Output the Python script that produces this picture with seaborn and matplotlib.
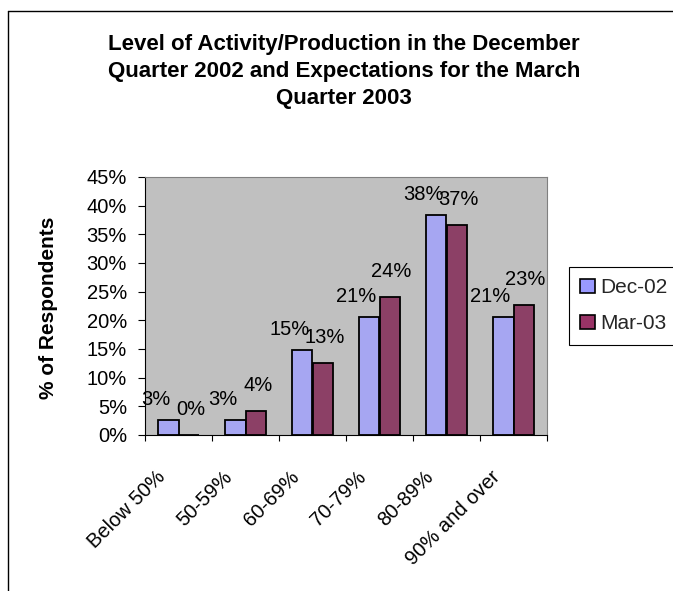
import matplotlib
matplotlib.use("Agg")
import matplotlib.pyplot as plt
import matplotlib.patches as mpatches
from matplotlib.lines import Line2D
from matplotlib.ticker import FuncFormatter, FixedLocator
import numpy as np
import pandas as pd
import seaborn as sns

# Capacity-utilisation bands and survey shares (% of respondents)
bands = ["Below 50%", "50-59%", "60-69%", "70-79%", "80-89%", "90% and over"]
periods = ["Dec-02", "Mar-03"]
dec_02 = [2.6, 2.7, 14.9, 20.6, 38.3, 20.6]
mar_03 = [0.0, 4.1, 12.6, 24.0, 36.6, 22.6]
bar_colors = ["#9999FF", "#993366"]
y_ticks = [0, 5, 10, 15, 20, 25, 30, 35, 40, 45]
title = ("Level of Activity/Production in the December\n"
         "Quarter 2002 and Expectations for the March\n"
         "Quarter 2003")

df = pd.DataFrame({
    "band": bands * 2,
    "pct": dec_02 + mar_03,
    "period": [periods[0]] * len(bands) + [periods[1]] * len(bands),
})

sns.set_theme(style="white")
plt.rcParams["font.family"] = ["Liberation Sans", "DejaVu Sans"]

W, H = 673, 591
fig = plt.figure(figsize=(W / 100, H / 100), dpi=100)
fig.patch.set_facecolor("white")

x0, x1, ytop, ybot = 145, 547, 177, 435
ax = fig.add_axes([x0 / W, 1 - ybot / H, (x1 - x0) / W, (ybot - ytop) / H])
ax.set_facecolor("#C0C0C0")

sns.barplot(data=df, x="band", y="pct", hue="period", palette=bar_colors,
            width=0.6, gap=0, edgecolor="black", linewidth=1.3,
            legend=False, ax=ax)

ax.set_ylim(0, 45)
ax.set_xlim(-0.5, len(bands) - 0.5)
ax.yaxis.set_major_locator(FixedLocator(y_ticks))
ax.yaxis.set_major_formatter(FuncFormatter(lambda v, p: f"{v:.0f}%"))
ax.tick_params(axis="y", which="major", direction="out", length=5, width=0.8,
               pad=8, labelsize=14.5, colors="black", left=True)

# tick marks sit on category boundaries; the slanted labels end just
# left of each category centre
ax.set_xticks(np.arange(len(bands)) - 0.18)
ax.set_xticklabels(bands)
ax.set_xticks(np.arange(len(bands) + 1) - 0.5, minor=True)
ax.tick_params(axis="x", which="major", length=0, pad=31, labelsize=14.5,
               labelcolor="black")
ax.tick_params(axis="x", which="minor", direction="out", length=4.5,
               width=0.8, color="black", bottom=True)
for lab in ax.get_xticklabels():
    lab.set_rotation(45)
    lab.set_ha("right")
    lab.set_va("baseline")
    lab.set_rotation_mode("anchor")

ax.set_xlabel("")
ax.set_ylabel("% of Respondents", fontsize=15, fontweight="bold",
              color="black")
ax.yaxis.label.set_va("center")
ax.yaxis.set_label_coords((49 - x0) / (x1 - x0), (ybot - 308) / (ybot - ytop))

for side in ("left", "bottom"):
    ax.spines[side].set_color("black")
    ax.spines[side].set_linewidth(0.8)
for side in ("top", "right"):
    ax.spines[side].set_color("#808080")
    ax.spines[side].set_linewidth(0.8)
ax.grid(False)

# value labels above each bar
for i, (d, m) in enumerate(zip(dec_02, mar_03)):
    ax.annotate(f"{d:.0f}%", xy=(i - 0.15, d), xytext=(-9.4, 10.8),
                textcoords="offset points", ha="center", va="baseline",
                fontsize=14.5, color="black")
    ax.annotate(f"{m:.0f}%", xy=(i + 0.15, m), xytext=(1.5, 14.4),
                textcoords="offset points", ha="center", va="baseline",
                fontsize=14.5, color="black")

fig.text(344 / W, 1 - 34 / H, title, ha="center", va="top", fontsize=16,
         fontweight="bold", linespacing=1.38, color="black")

handles = [mpatches.Patch(facecolor=c, edgecolor="black", linewidth=1.2)
           for c in bar_colors]
leg = fig.legend(handles, periods, loc="upper left",
                 bbox_to_anchor=(569 / W, 1 - 267 / H), borderaxespad=0,
                 fontsize=15, frameon=True, fancybox=False, edgecolor="black",
                 framealpha=1, borderpad=0.55, labelspacing=0.8,
                 handlelength=0.7, handleheight=0.7, handletextpad=0.25)
leg.get_frame().set_linewidth(0.8)

# chart frame: only its left and top edges fall inside the image
bx, by = 7.5 / W, 1 - 11 / H
fig.add_artist(Line2D([bx, bx], [0, by], transform=fig.transFigure,
                      color="black", linewidth=1.0))
fig.add_artist(Line2D([bx, 1], [by, by], transform=fig.transFigure,
                      color="black", linewidth=1.0))

fig.savefig("out.png", dpi=100)
